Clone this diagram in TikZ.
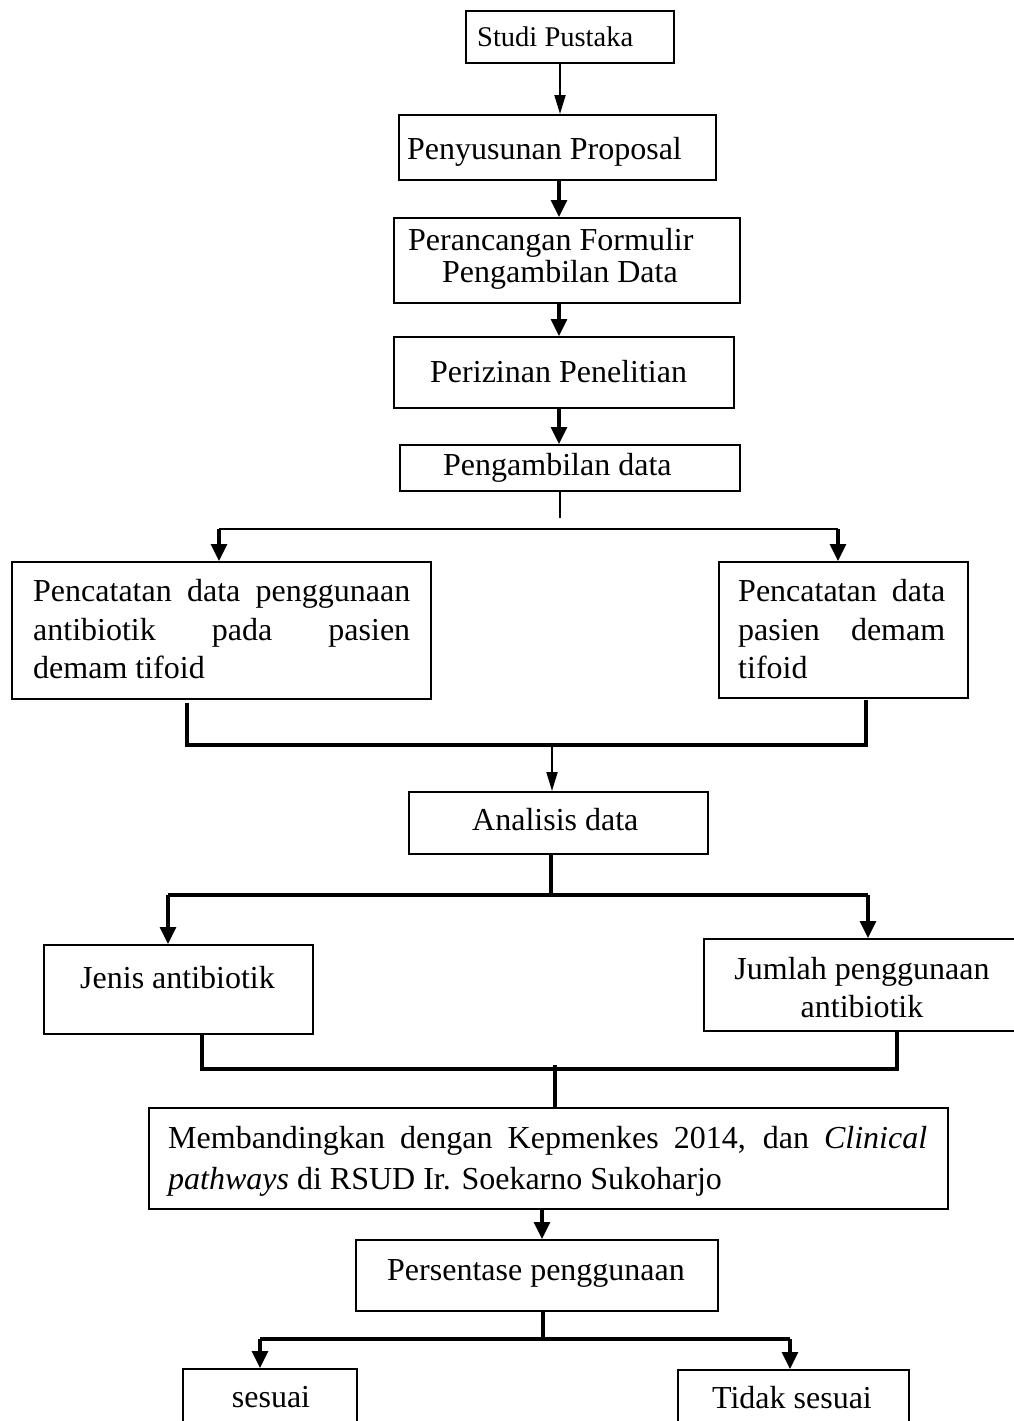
\documentclass[tikz,border=0pt]{standalone}
\usepackage{fontspec}
\setmainfont{Liberation Serif}
\usetikzlibrary{arrows.meta}
\begin{document}
\begin{tikzpicture}[x=1pt,y=-1pt,
  box/.style={draw, line width=1.8pt, inner sep=0pt, anchor=north west},
  txt/.style={inner sep=0pt, anchor=base west, font=\fontsize{32}{38}\selectfont},
  ctxt/.style={txt, anchor=base},
  thinln/.style={line width=2pt},
  medln/.style={line width=3.2pt},
  thickln/.style={line width=3.8pt},
  tip/.style={-{Triangle[length=17pt,width=16pt]}},
  sliptip/.style={-{Triangle[length=19pt,width=11pt]}}]
\useasboundingbox (0,0) rectangle (1014,1421);
\clip (0,0) rectangle (1014,1421);

% boxes
\node[box, minimum width=208pt, minimum height=52pt] (studi) at (465,10) {};
\node[box, minimum width=317pt, minimum height=65pt] (prop) at (398,114) {};
\node[box, minimum width=346pt, minimum height=85pt] (form) at (393,217) {};
\node[box, minimum width=340pt, minimum height=71pt] (izin) at (393,336) {};
\node[box, minimum width=340pt, minimum height=46pt] (ambil) at (399,444) {};
\node[box, minimum width=419pt, minimum height=137pt] (pcL) at (11,561) {};
\node[box, minimum width=249pt, minimum height=136pt] (pcR) at (718,561) {};
\node[box, minimum width=299pt, minimum height=62pt] (anal) at (408,791) {};
\node[box, minimum width=269pt, minimum height=89pt] (jenis) at (43,944) {};
\node[box, minimum width=327pt, minimum height=92pt] (jumlah) at (703,938) {};
\node[box, minimum width=799pt, minimum height=101pt] (banding) at (148,1107) {};
\node[box, minimum width=362pt, minimum height=71pt] (persen) at (355,1239) {};
\node[box, minimum width=174pt, minimum height=72pt] (sesuai) at (182,1368) {};
\node[box, minimum width=231pt, minimum height=71pt] (tidak) at (677,1369) {};

% texts
\node[txt, font=\fontsize{28.5}{34}\selectfont] (tstudi) at (477,47) {Studi Pustaka};
\node[txt] (tprop) at (407,159) {Penyusunan Proposal};
\node[txt] (tform1) at (408,250) {Perancangan Formulir};
\node[txt] (tform2) at (442,282) {Pengambilan Data};
\node[txt] (tizin) at (430,382) {Perizinan Penelitian};
\node[txt] (tambil) at (443,475) {Pengambilan data};
\node[txt] (tpcL1) at (33,601) {\makebox[377pt][s]{Pencatatan data penggunaan}};
\node[txt] (tpcL2) at (33,640) {\makebox[377pt][s]{antibiotik pada pasien}};
\node[txt] (tpcL3) at (33,678) {demam tifoid};
\node[txt] (tpcR1) at (738,601) {\makebox[207pt][s]{Pencatatan data}};
\node[txt] (tpcR2) at (738,640) {\makebox[207pt][s]{pasien demam}};
\node[txt] (tpcR3) at (738,678) {tifoid};
\node[txt] (tanal) at (472,830) {Analisis data};
\node[txt] (tjenis) at (80,988) {Jenis antibiotik};
\node[ctxt] (tjum1) at (862,979) {Jumlah penggunaan};
\node[ctxt] (tjum2) at (862,1017) {antibiotik};
\node[txt] (tband1) at (168,1148) {\makebox[759pt][s]{Membandingkan dengan Kepmenkes 2014, dan \textit{Clinical}}};
\node[txt] (tband2) at (168,1189) {\textit{pathways} di RSUD Ir. Soekarno Sukoharjo};
\node[txt] (tpersen) at (387,1280) {Persentase penggunaan};
\node[ctxt] (tsesuai) at (271,1407) {sesuai};
\node[ctxt] (ttidak) at (792,1408) {Tidak sesuai};

% column coordinates
\coordinate (x560) at (560,0);
\coordinate (x559) at (559,0);
\coordinate (stubA) at (560,518);
\coordinate (hL) at (219,529);
\coordinate (hR) at (838,529);
\coordinate (mLtop) at (187,703);
\coordinate (mL) at (187,745);
\coordinate (mR) at (866,745);
\coordinate (mRtop) at (866,700);
\coordinate (mC) at (552,745);
\coordinate (aC) at (551,895);
\coordinate (aL) at (168,895);
\coordinate (aR) at (868,895);
\coordinate (jL) at (202,1069);
\coordinate (jR) at (897,1069);
\coordinate (jC) at (555,1065);
\coordinate (x542) at (542,0);
\coordinate (pC) at (543,1339);
\coordinate (pL) at (260,1339);
\coordinate (pR) at (790,1339);

% connectors
\draw[thinln, sliptip] (studi.south -| x560) -- (prop.north -| x560);
\draw[medln, tip] (prop.south -| x559) -- (form.north -| x559);
\draw[medln, tip] (form.south -| x559) -- (izin.north -| x559);
\draw[medln, tip] (izin.south -| x559) -- (ambil.north -| x559);
\draw[thinln] (ambil.south -| stubA) -- (stubA);
\draw[thinln] (hL) -- (hR);
\draw[medln, tip] (hL) -- (pcL.north -| hL);
\draw[medln, tip] (hR) -- (pcR.north -| hR);

\draw[thickln] (mLtop) -- (mL) -- (mR) -- (mRtop);
\draw[thinln, sliptip] (mC) -- (anal.north -| mC);

\draw[medln] (anal.south -| aC) -- (aC);
\draw[thickln] (aL) -- (aR);
\draw[medln, tip] (aL) -- (jenis.north -| aL);
\draw[medln, tip] (aR) -- (jumlah.north -| aR);

\draw[thickln] (jenis.south -| jL) -- (jL) -- (jR) -- (jumlah.south -| jR);
\draw[medln] (jC) -- (banding.north -| jC);

\draw[medln, tip] (banding.south -| x542) -- (persen.north -| x542);
\draw[medln] (persen.south -| pC) -- (pC);
\draw[thickln] (pL) -- (pR);
\draw[medln, tip] (pL) -- (sesuai.north -| pL);
\draw[medln, tip] (pR) -- (tidak.north -| pR);
\end{tikzpicture}
\end{document}
